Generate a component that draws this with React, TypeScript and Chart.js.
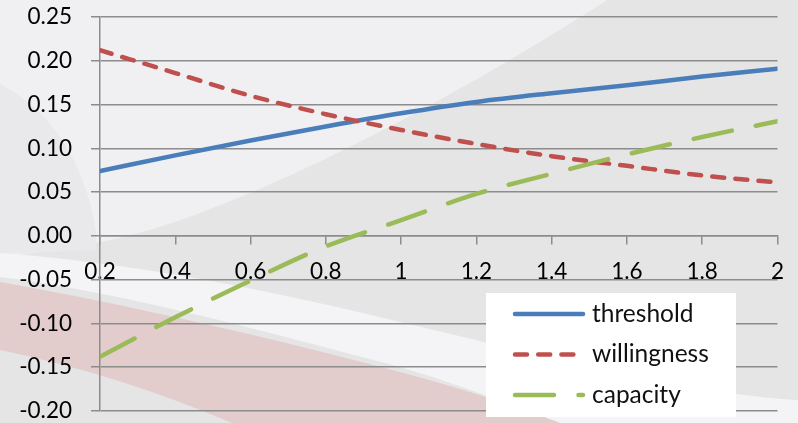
import React, { useEffect, useRef } from "react";
import { Chart, registerables } from "chart.js";

Chart.register(...registerables);

// Sampled curve values
const xValues = [0.2, 0.4, 0.6, 0.8, 1.0, 1.2, 1.4, 1.6, 1.8, 2.0];
const threshold = [0.074, 0.092, 0.109, 0.125, 0.14, 0.153, 0.163, 0.172, 0.182, 0.191];
const willingness = [0.212, 0.186, 0.16, 0.139, 0.121, 0.105, 0.091, 0.08, 0.069, 0.061];
const capacity = [-0.138, -0.093, -0.051, -0.012, 0.018, 0.048, 0.071, 0.093, 0.113, 0.131];
const seriesNames = ["threshold", "willingness", "capacity"];

// Axis ticks
const xTicks = [0.2, 0.4, 0.6, 0.8, 1, 1.2, 1.4, 1.6, 1.8, 2];
const xTickLabels = ["0.2", "0.4", "0.6", "0.8", "1", "1.2", "1.4", "1.6", "1.8", "2"];
const yTicks = [-0.2, -0.15, -0.1, -0.05, 0, 0.05, 0.1, 0.15, 0.2, 0.25];
const yTickLabels = ["-0.20", "-0.15", "-0.10", "-0.05", "0.00", "0.05", "0.10", "0.15", "0.20", "0.25"];

const GRID = "#8c8c8c";
const FONT = "Lato";

// Decorative slide-style backdrop behind the plot
const backdrop = {
  id: "backdrop",
  beforeDraw(chart: any) {
    const { ctx, width: w, height: h } = chart;
    const sx = w / 798;
    const sy = h / 423;
    const P = (x: number, y: number): [number, number] => [x * sx, y * sy];
    ctx.save();
    ctx.fillStyle = "#e5e5e6";
    ctx.fillRect(0, 0, w, h);

    // pale upper-left sweep
    ctx.fillStyle = "#f0f0f2";
    ctx.beginPath();
    ctx.moveTo(...P(0, 0));
    ctx.lineTo(...P(607, 0));
    ctx.bezierCurveTo(...P(500, 70), ...P(330, 165), ...P(200, 213));
    ctx.quadraticCurveTo(...P(110, 248), ...P(0, 256));
    ctx.closePath();
    ctx.fill();

    // soft grey crescent on the far left
    ctx.fillStyle = "#e9e9eb";
    ctx.beginPath();
    ctx.moveTo(...P(0, 84));
    ctx.bezierCurveTo(...P(50, 110), ...P(85, 160), ...P(96, 232));
    ctx.lineTo(...P(96, 250));
    ctx.lineTo(...P(0, 254));
    ctx.closePath();
    ctx.fill();

    // white ribbon
    ctx.fillStyle = "#f4f4f6";
    ctx.beginPath();
    ctx.moveTo(...P(0, 253));
    ctx.bezierCurveTo(...P(120, 262), ...P(250, 285), ...P(400, 322));
    ctx.bezierCurveTo(...P(560, 360), ...P(700, 395), ...P(798, 400));
    ctx.lineTo(...P(798, 423));
    ctx.lineTo(...P(560, 423));
    ctx.bezierCurveTo(...P(500, 400), ...P(450, 382), ...P(400, 367));
    ctx.bezierCurveTo(...P(260, 330), ...P(120, 292), ...P(0, 277));
    ctx.closePath();
    ctx.fill();

    // red ribbon
    ctx.fillStyle = "#e3cccc";
    ctx.beginPath();
    ctx.moveTo(...P(0, 282));
    ctx.bezierCurveTo(...P(130, 305), ...P(280, 340), ...P(400, 372));
    ctx.quadraticCurveTo(...P(490, 396), ...P(560, 423));
    ctx.lineTo(...P(232, 423));
    ctx.quadraticCurveTo(...P(120, 375), ...P(0, 350));
    ctx.closePath();
    ctx.fill();
    ctx.restore();
  },
};

// Boxed legend drawn inside the plot area, using each dataset's own stroke style
const boxLegend = {
  id: "boxLegend",
  afterDraw(chart: any, _args: any, opts: any) {
    const { ctx } = chart;
    const { x, y, width, height, firstRow, rowGap, sampleX, sampleLen, textX, fontSize } = opts;
    ctx.save();
    ctx.fillStyle = "#ffffff";
    ctx.fillRect(x, y, width, height);
    chart.data.datasets.forEach((ds: any, i: number) => {
      const cy = y + firstRow + i * rowGap;
      ctx.strokeStyle = ds.borderColor;
      ctx.lineWidth = ds.borderWidth;
      ctx.lineCap = "round";
      ctx.setLineDash(ds.borderDash || []);
      ctx.beginPath();
      ctx.moveTo(sampleX, cy);
      ctx.lineTo(sampleX + sampleLen, cy);
      ctx.stroke();
      ctx.setLineDash([]);
      ctx.fillStyle = "#111111";
      ctx.font = `${fontSize}px ${FONT}`;
      ctx.textBaseline = "middle";
      ctx.textAlign = "left";
      ctx.fillText(ds.label, textX, cy);
    });
    ctx.restore();
  },
};

const points = (ys: number[]) => xValues.map((x, i) => ({ x, y: ys[i] }));

export default function App() {
  const canvasRef = useRef<HTMLCanvasElement | null>(null);

  useEffect(() => {
    const canvas = canvasRef.current;
    if (!canvas) return;
    const common = {
      borderWidth: 4.5,
      pointRadius: 0,
      pointHoverRadius: 0,
      cubicInterpolationMode: "monotone" as const,
      borderCapStyle: "round" as const,
      borderJoinStyle: "round" as const,
      fill: false,
    };
    const chart = new Chart(canvas, {
      type: "line",
      data: {
        datasets: [
          { ...common, label: seriesNames[0], data: points(threshold), borderColor: "#4a7ebb", order: 2 },
          { ...common, label: seriesNames[1], data: points(willingness), borderColor: "#c0504d", borderDash: [12, 11.2], order: 1 },
          { ...common, label: seriesNames[2], data: points(capacity), borderColor: "#9bbb59", borderDash: [39, 24.5], order: 0 },
        ],
      },
      options: {
        animation: false,
        responsive: false,
        devicePixelRatio: 1,
        layout: { padding: { top: 17, right: 20, bottom: 12, left: 0 } },
        plugins: {
          legend: { display: false },
          tooltip: { enabled: false },
          boxLegend: {
            x: 486,
            y: 293,
            width: 250,
            height: 124,
            firstRow: 21,
            rowGap: 40.5,
            sampleX: 515,
            sampleLen: 68,
            textX: 592,
            fontSize: 24.5,
          },
        } as any,
        scales: {
          x: {
            type: "linear",
            min: 0.2,
            max: 2,
            position: { y: 0 } as any,
            afterBuildTicks: (s: any) => {
              s.ticks = xTicks.map((v) => ({ value: v }));
            },
            ticks: {
              callback: (_v: any, i: number) => xTickLabels[i],
              font: { family: FONT, size: 22.5 },
              color: "#000000",
              padding: 14,
              maxRotation: 0,
              autoSkip: false,
            },
            grid: { drawOnChartArea: false, drawTicks: true, tickLength: 8, color: GRID, lineWidth: 1.5 },
            border: { color: GRID, width: 1.5 },
          },
          y: {
            type: "linear",
            min: -0.2,
            max: 0.25,
            afterBuildTicks: (s: any) => {
              s.ticks = yTicks.map((v) => ({ value: v }));
            },
            afterFit: (s: any) => {
              s.width = 100;
              s.paddingTop = 0;
              s.paddingBottom = 0;
            },
            ticks: {
              callback: (_v: any, i: number) => yTickLabels[i],
              font: { family: FONT, size: 22.5 },
              color: "#000000",
              padding: 19,
            },
            grid: { color: GRID, lineWidth: 1.5, tickLength: 9 },
            border: { color: GRID, width: 1.5 },
          },
        },
      },
      plugins: [backdrop, boxLegend],
    });
    return () => chart.destroy();
  }, []);

  return (
    <div style={{ position: "fixed", left: 0, top: 0, width: 798, height: 423 }}>
      <canvas ref={canvasRef} width={798} height={423} style={{ display: "block" }} />
    </div>
  );
}
